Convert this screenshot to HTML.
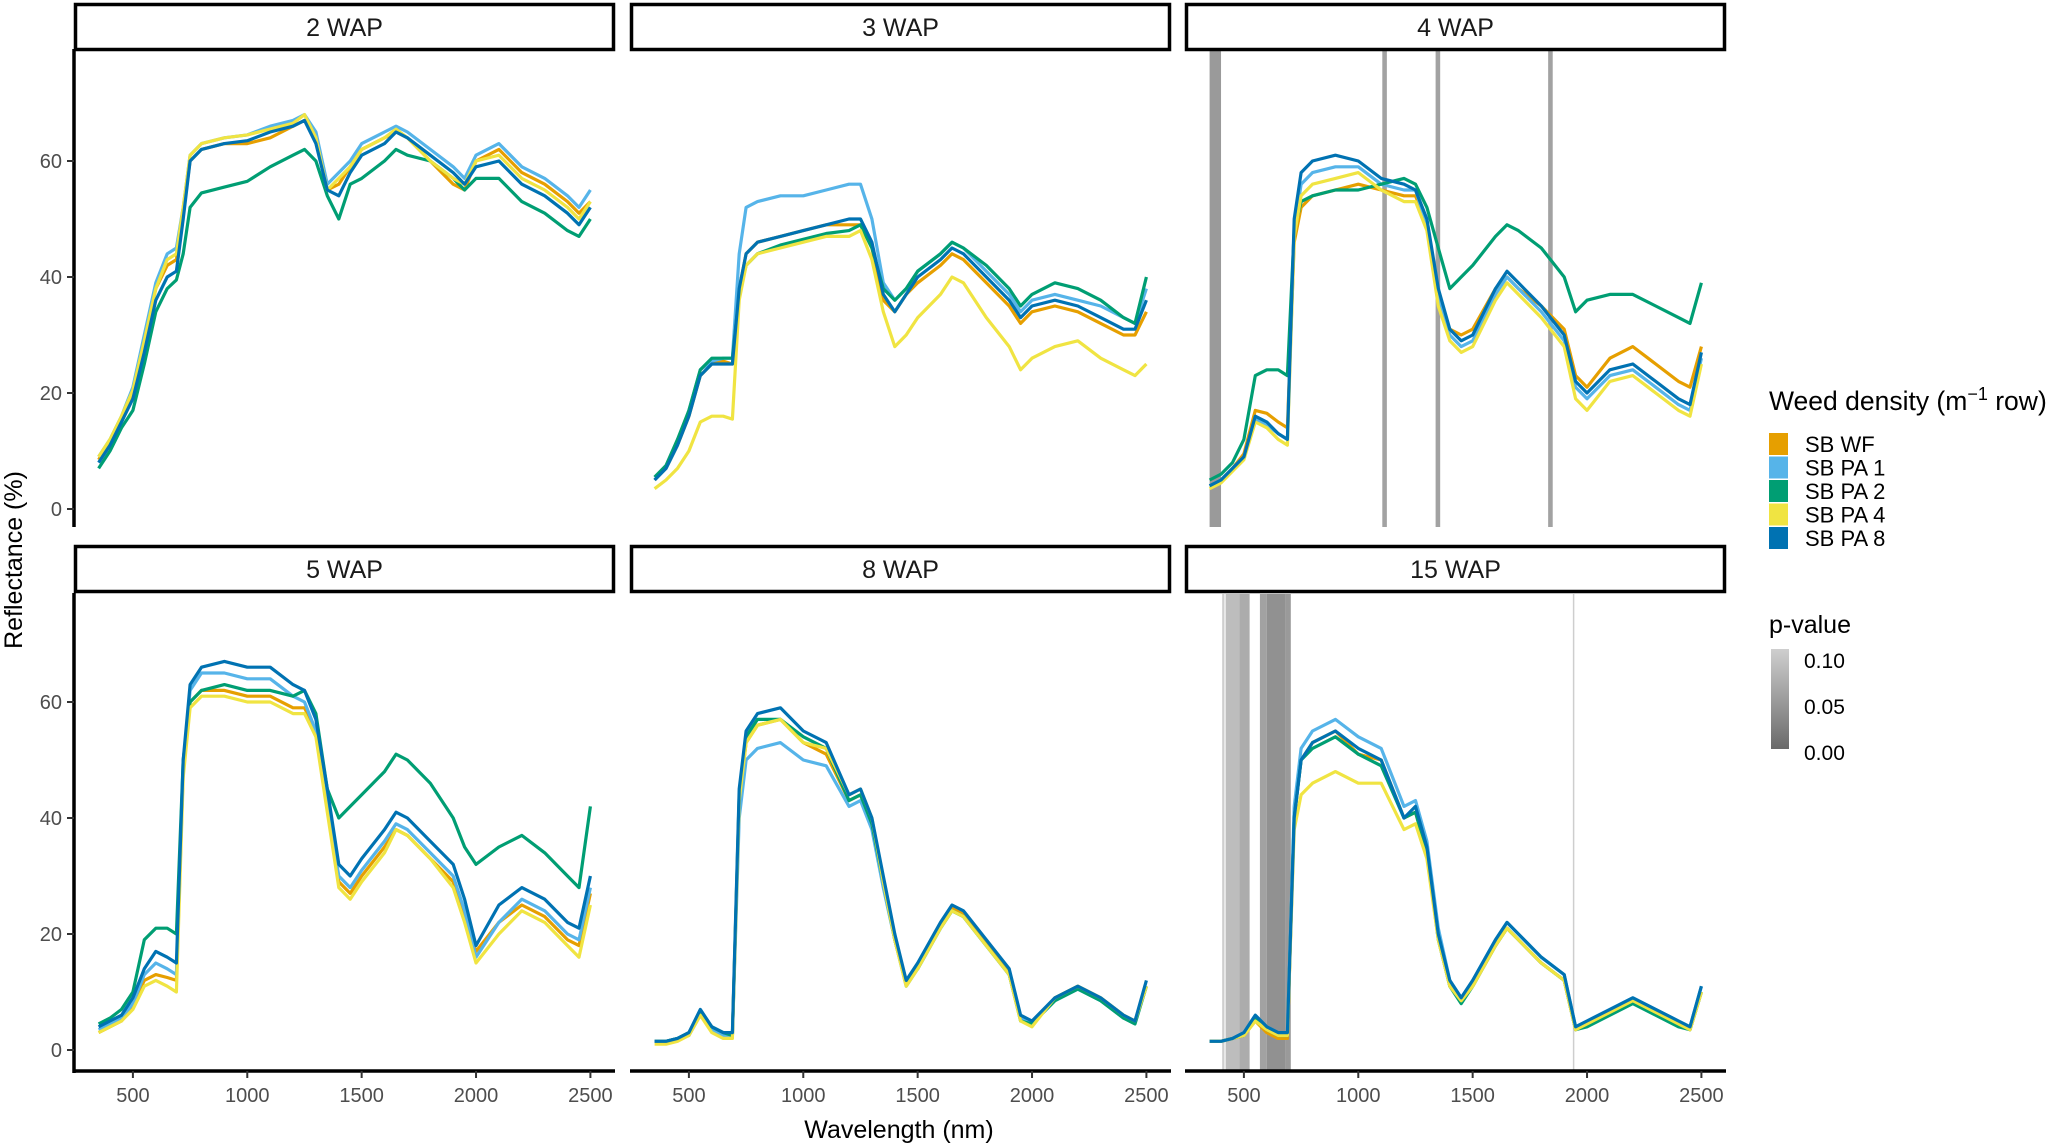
<!DOCTYPE html>
<html><head><meta charset="utf-8"><style>
html,body{margin:0;padding:0;background:#fff;}
svg{display:block;font-family:"Liberation Sans",Arial,sans-serif;}
</style></head><body>
<svg id="chart" width="2067" height="1145" viewBox="0 0 2067 1145" xmlns="http://www.w3.org/2000/svg">
<g id="bands"></g>
<g id="lines"></g>
<g id="frame"></g>
<text x="0" y="0" transform="translate(22,560) rotate(-90)" text-anchor="middle" font-size="25" fill="#000">Reflectance (%)</text>
<text x="899" y="1138" text-anchor="middle" font-size="25" fill="#000">Wavelength (nm)</text>
<g>
<text x="1769" y="410" font-size="26.5" fill="#000">Weed density (m<tspan dy="-10" font-size="18">−1</tspan><tspan dy="10"> row)</tspan></text>
</g>
<g id="legend"></g>
<g>
<text x="1769" y="633" font-size="25" fill="#000">p-value</text>
<defs><linearGradient id="pg" x1="0" y1="0" x2="0" y2="1"><stop offset="0" stop-color="#cfcfcf"/><stop offset="1" stop-color="#6a6a6a"/></linearGradient></defs>
<rect x="1771" y="649" width="18" height="100" fill="url(#pg)"/>
<text x="1804" y="668" font-size="21" fill="#000">0.10</text>
<text x="1804" y="714" font-size="21" fill="#000">0.05</text>
<text x="1804" y="760" font-size="21" fill="#000">0.00</text>
</g>
</svg>
<script>
const NS="http://www.w3.org/2000/svg";
const panelNames=["2 WAP","3 WAP","4 WAP","5 WAP","8 WAP","15 WAP"];
const seriesNames=["SB WF","SB PA 1","SB PA 2","SB PA 4","SB PA 8"];
const seriesColors=["#E69F00","#56B4E9","#009E73","#F0E442","#0072B2"];
const wavelengths=[350,400,450,500,550,600,650,690,720,750,800,900,1000,1100,1200,1250,1300,1350,1400,1450,1500,1600,1650,1700,1800,1900,1950,2000,2100,2200,2300,2400,2450,2500];
const xTicks=[500,1000,1500,2000,2500];
const yTicks=[0,20,40,60];
// order: WF, PA1, PA2, PA4, PA8
const wap2=[
[8.5,11.5,15.5,20,29,38,42,43,51,60,62,63,63,64,66,67,64,55,56,59,62,64,65,64,60,56,55,60,62,58,56,53,51,53],
[9,12,16,21,30,39,44,45,52,61,63,64,64.5,66,67,68,65,56,58,60,63,65,66,65,62,59,57,61,63,59,57,54,52,55],
[7,10,14,17,25,34,38,39.5,44,52,54.5,55.5,56.5,59,61,62,60,54,50,56,57,60,62,61,60,57,55,57,57,53,51,48,47,50],
[9,12,16,20.5,29,38,43,44,52,61,63,64,64.5,65.5,66.5,68,64,55,57,59,62,64,65.5,64,60,57,56,60,61,57,55,52,50,53],
[8,11,15,19,27,36,40,41,50,60,62,63,63.5,65,66,67,63,55,54,58,61,63,65,64,61,58,56,59,60,56,54,51,49,52]];
const wap3=[
[5,7,11,16,23,25,25.5,25,38,44,46,47,48,49,49,49,45,36,34,37,39,42,44,43,39,35,32,34,35,34,32,30,30,34],
[5,7,11,17,24,25.5,26,26,44,52,53,54,54,55,56,56,50,39,36,38,41,44,46,45,41,37,34,36,37,36,35,33,32,38],
[5.5,7.5,12,17,24,26,26,26,37,42,44,45.5,46.5,47.5,48,49,45,38,36,38,41,44,46,45,42,38,35,37,39,38,36,33,32,40],
[3.5,5,7,10,15,16,16,15.5,36,42,44,45,46,47,47,48,43,34,28,30,33,37,40,39,33,28,24,26,28,29,26,24,23,25],
[5,7,11,16,23,25,25,25,38,44,46,47,48,49,50,50,46,37,34,37,40,43,45,44,40,36,33,35,36,35,33,31,31,36]];
const wap4=[
[4,5,7,9.5,17,16.5,15,14,46,52,54,55,56,55,54,54,49,36,31,30,31,38,40,38,35,31,23,21,26,28,25,22,21,28],
[4,5,7,9,15.5,14.5,13,12,48,56,58,59,59,56,55,55,49,36,30,28,29,37,40,38,34,29,21,19,23,24,21,18,17,26],
[5,6,8,12,23,24,24,23,48,53,54,55,55,56,57,56,52,45,38,40,42,47,49,48,45,40,34,36,37,37,35,33,32,39],
[3.5,4.5,6.5,8.5,15,14,12,11,47,54,56,57,58,55,53,53,48,35,29,27,28,36,39,37,33,28,19,17,22,23,20,17,16,25],
[4,5,7,9,16,15,13,12,50,58,60,61,60,57,56,55,50,38,31,29,30,38,41,39,35,30,22,20,24,25,22,19,18,27]];
const wap5=[
[3,4,5,7.5,12,13,12.5,12,48,60,62,62,61,61,59,59,55,42,29,27,30,35,38,37,33,29,23,17,22,25,23,19,18,27],
[3.5,4.5,5.5,8,13,15,14,13,49,62,65,65,64,64,61,60,55,42,30,28,31,36,39,38,34,30,24,16,22,26,24,20,19,28],
[4.5,5.5,7,10,19,21,21,20,50,60,62,63,62,62,61,62,58,45,40,42,44,48,51,50,46,40,35,32,35,37,34,30,28,42],
[3,4,5,7,11,12,11,10,47,59,61,61,60,60,58,58,54,41,28,26,29,34,38,37,33,28,22,15,20,24,22,18,16,25],
[4,5,6,9,14,17,16,15,50,63,66,67,66,66,63,62,57,45,32,30,33,38,41,40,36,32,26,18,25,28,26,22,21,30]];
const wap8=[
[1.5,1.5,2,2.5,6.5,3.5,2.5,2.5,43,53,56,57,53,51,43,44,39,29,19,11.5,14.5,21.5,24.5,23.5,18.5,13.5,5.5,4.5,9,11,9,6,5,11],
[1.5,1.5,2,2.5,6,3.5,2.5,2.5,40,50,52,53,50,49,42,43,38,28,19,11,14,21,24,23,18,13,5.5,4.5,8.5,10.5,8.5,5.5,5,11],
[1.5,1.5,2,3,6.5,4,3,2.5,44,54,57,57,54,52,43,44,39,29,19,11.5,14,21,24,23,18,13,5,4.5,8.5,10.5,8.5,5.5,4.5,11],
[1,1,1.5,2.5,6,3,2,2,43,53,56,57,53,52,44,45,40,29,19,11,14,21,24,23,18,13,5,4,9,11,9,6,5,11],
[1.5,1.5,2,3,7,4,3,3,45,55,58,59,55,53,44,45,40,30,20,12,15,22,25,24,19,14,6,5,9,11,9,6,5,12]];
const wap15=[
[1.5,1.5,2,2.5,5,3,2,2,40,50,53,55,51,50,40,41,34,20,11,8.5,11,18,21,19,15,12,3.5,4.5,6.5,8.5,6.5,4.5,3.5,10],
[1.5,1.5,2,3,6,4,3,3,42,52,55,57,54,52,42,43,36,21,12,9,12,19,22,20,16,13,4,5,7,9,7,5,4,11],
[1.5,1.5,2,2.5,5.5,3.5,2.5,2.5,40,50,52,54,51,49,40,41,34,19,11,8,11,18,21,19,15,12,3.5,4,6,8,6,4,3.5,10],
[1.5,1.5,2,2.5,5,3.5,2.5,2.5,38,44,46,48,46,46,38,39,33,19,11,8.5,11,18,21,19,15,12,3.5,4.5,6.5,8.5,6.5,4.5,3.5,10],
[1.5,1.5,2,3,6,4,3,3,40,50,53,55,52,50,40,42,35,20,12,9,12,19,22,20,16,13,4,5,7,9,7,5,4,11]];
const panelData=[wap2,wap3,wap4,wap5,wap8,wap15];
// significant bands: [start nm, end nm, p-value]
const bands4=[[350,400,0.03],[1105,1125,0.04],[1338,1358,0.04],[1830,1850,0.04]];
const bands15=[[405,415,0.09],[420,480,0.07],[480,525,0.05],[570,600,0.04],[600,680,0.02],[680,705,0.03],[1938,1943,0.09]];
const panelBands=[[],[],bands4,[],[],bands15];

const colX=[74,630,1185], PW=541;
const rowTop=[50,594], rowBot=[527,1071], zeroY=[509,1050], stripTop=[3,545];
const XMIN=242.5, XMAX=2607.5, PXU=5.8;
function xs(p,w){return colX[p%3]+(w-XMIN)/(XMAX-XMIN)*PW;}
function ys(p,v){return zeroY[Math.floor(p/3)]-v*PXU;}
function gray(p){const t=Math.min(p/0.1,1);const c=Math.round(106+t*(207-106));return `rgb(${c},${c},${c})`;}
function mk(tag,attrs,parent){const e=document.createElementNS(NS,tag);for(const k in attrs)e.setAttribute(k,attrs[k]);parent.appendChild(e);return e;}

const gB=document.getElementById('bands'),gL=document.getElementById('lines'),gF=document.getElementById('frame'),gLg=document.getElementById('legend');
for(let p=0;p<6;p++){
  const r=Math.floor(p/3);
  panelBands[p].forEach(b=>{
    const x0=xs(p,b[0]),x1=xs(p,b[1]);
    const el=mk('rect',{x:x0,y:rowTop[r],width:Math.max(x1-x0,1.5),height:rowBot[r]-rowTop[r],fill:gray(b[2]),opacity:0.85},gB);
    
    
  });
  const order=[0,1,2,3,4];
  order.forEach(s=>{
    const pts=wavelengths.map((w,i)=>xs(p,w).toFixed(1)+','+ys(p,panelData[p][s][i]).toFixed(1)).join(' ');
    const el=mk('polyline',{points:pts,fill:'none',stroke:seriesColors[s],'stroke-width':3.2,'stroke-linejoin':'round'},gL);
    
    
  });
  const st=mk('rect',{x:colX[p%3]+1.5,y:stripTop[r]+1.5,width:PW-3,height:45,fill:'#fff',stroke:'#000','stroke-width':3.5},gF);
  
  
  const tt=mk('text',{x:colX[p%3]+PW/2,y:stripTop[r]+33,'text-anchor':'middle','font-size':25,fill:'#1a1a1a'},gF);
  tt.textContent=panelNames[p];
  
  
  if(p%3===0){
    const ax=mk('line',{x1:colX[0],y1:rowTop[r]-1,x2:colX[0],y2:rowBot[r]+(r===1?2:0),stroke:'#000','stroke-width':3.5},gF);
    
    
    yTicks.forEach(v=>{
      const y=ys(p,v);
      const tk=mk('line',{x1:colX[0]-7,y1:y,x2:colX[0],y2:y,stroke:'#333','stroke-width':2},gF);
      
      
      const tl=mk('text',{x:colX[0]-12,y:y+7,'text-anchor':'end','font-size':20,fill:'#4d4d4d'},gF);
      tl.textContent=v;
      
      
    });
  }
  if(r===1){
    const ax=mk('line',{x1:colX[p%3],y1:rowBot[1],x2:colX[p%3]+PW,y2:rowBot[1],stroke:'#000','stroke-width':3.5},gF);
    
    
    xTicks.forEach(w=>{
      const x=xs(p,w);
      const tk=mk('line',{x1:x,y1:rowBot[1],x2:x,y2:rowBot[1]+7,stroke:'#333','stroke-width':2},gF);
      
      
      const tl=mk('text',{x:x,y:rowBot[1]+31,'text-anchor':'middle','font-size':20,fill:'#4d4d4d'},gF);
      tl.textContent=w;
      
      
    });
  }
}
seriesNames.forEach((n,i)=>{
  const y=433+i*23.5;
  const k=mk('rect',{x:1769,y:y,width:19,height:22,fill:seriesColors[i]},gLg);
  
  
  const t=mk('text',{x:1805,y:y+19,'font-size':22,fill:'#000'},gLg);
  t.textContent=n;
  
  
});
</script>
</body></html>
